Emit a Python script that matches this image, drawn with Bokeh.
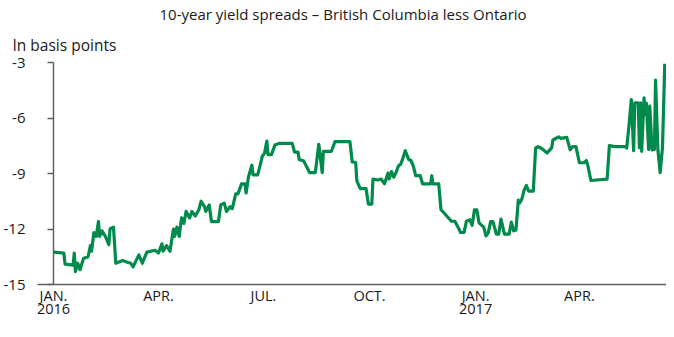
import pandas as pd
from bokeh.plotting import figure
from bokeh.models import Range1d, FixedTicker, Title, ColumnDataSource
from bokeh.embed import file_html
from bokeh.resources import INLINE

# ---- data ----
dates = [
    "2016-01-01", "2016-01-10", "2016-01-11", "2016-01-18", "2016-01-19", "2016-01-20",
    "2016-01-22", "2016-01-24", "2016-01-27", "2016-01-31", "2016-02-02", "2016-02-03",
    "2016-02-05", "2016-02-07", "2016-02-09", "2016-02-10", "2016-02-12", "2016-02-15",
    "2016-02-18", "2016-02-19", "2016-02-22", "2016-02-24", "2016-03-01", "2016-03-05",
    "2016-03-08", "2016-03-10", "2016-03-15", "2016-03-18", "2016-03-22", "2016-03-29",
    "2016-04-01", "2016-04-04", "2016-04-05", "2016-04-08", "2016-04-11", "2016-04-14",
    "2016-04-15", "2016-04-17", "2016-04-19", "2016-04-21", "2016-04-23", "2016-04-25",
    "2016-04-28", "2016-04-30", "2016-05-03", "2016-05-06", "2016-05-08", "2016-05-11",
    "2016-05-12", "2016-05-15", "2016-05-17", "2016-05-23", "2016-05-25", "2016-05-28",
    "2016-05-30", "2016-06-02", "2016-06-04", "2016-06-07", "2016-06-09", "2016-06-12",
    "2016-06-15", "2016-06-16", "2016-06-18", "2016-06-21", "2016-06-22", "2016-06-26",
    "2016-06-28", "2016-06-30", "2016-07-02", "2016-07-04", "2016-07-05", "2016-07-08",
    "2016-07-11", "2016-07-15", "2016-07-26", "2016-07-28", "2016-07-31", "2016-08-01",
    "2016-08-05", "2016-08-10", "2016-08-15", "2016-08-18", "2016-08-21", "2016-08-22",
    "2016-08-29", "2016-09-01", "2016-09-14", "2016-09-16", "2016-09-19", "2016-09-20",
    "2016-09-23", "2016-09-28", "2016-09-30", "2016-10-03", "2016-10-04", "2016-10-08",
    "2016-10-11", "2016-10-14", "2016-10-17", "2016-10-18", "2016-10-20", "2016-10-22",
    "2016-10-24", "2016-10-26", "2016-10-28", "2016-10-30", "2016-11-01", "2016-11-04",
    "2016-11-06", "2016-11-08", "2016-11-10", "2016-11-14", "2016-11-16", "2016-11-23",
    "2016-11-24", "2016-11-25", "2016-11-30", "2016-12-02", "2016-12-06", "2016-12-11",
    "2016-12-14", "2016-12-17", "2016-12-19", "2016-12-22", "2016-12-24", "2016-12-27",
    "2016-12-29", "2016-12-31", "2017-01-02", "2017-01-04", "2017-01-08", "2017-01-10",
    "2017-01-12", "2017-01-14", "2017-01-16", "2017-01-19", "2017-01-21", "2017-01-23",
    "2017-01-26", "2017-01-30", "2017-02-01", "2017-02-03", "2017-02-05", "2017-02-07",
    "2017-02-08", "2017-02-10", "2017-02-12", "2017-02-14", "2017-02-16", "2017-02-20",
    "2017-02-22", "2017-02-24", "2017-02-27", "2017-03-04", "2017-03-08", "2017-03-09",
    "2017-03-14", "2017-03-16", "2017-03-21", "2017-03-24", "2017-03-26", "2017-03-29",
    "2017-04-01", "2017-04-05", "2017-04-07", "2017-04-08", "2017-04-11", "2017-04-25",
    "2017-04-27", "2017-05-02", "2017-05-11", "2017-05-12", "2017-05-14", "2017-05-16",
    "2017-05-18", "2017-05-19", "2017-05-22", "2017-05-23", "2017-05-24", "2017-05-25",
    "2017-05-27", "2017-05-28", "2017-05-29", "2017-05-31", "2017-06-01", "2017-06-03",
    "2017-06-05", "2017-06-06", "2017-06-08", "2017-06-10", "2017-06-12", "2017-06-14",
]
spread_bp = [
    -13.25, -13.3, -13.9, -13.95, -13.3, -14.3,
    -13.85, -14.2, -13.6, -13.5, -12.9, -13.2,
    -12.2, -12.4, -11.6, -12.4, -12.1, -12.4,
    -12.85, -12.0, -11.9, -13.85, -13.7, -13.8,
    -13.85, -14.05, -13.4, -13.85, -13.25, -13.15,
    -13.3, -12.8, -13.2, -12.9, -13.2, -12.0,
    -12.4, -11.9, -12.4, -11.4, -11.7, -11.05,
    -11.4, -11.05, -11.3, -10.96, -10.5, -10.8,
    -11.05, -10.7, -11.6, -11.6, -10.7, -10.6,
    -11.05, -10.8, -10.9, -10.1, -10.1, -9.56,
    -9.56, -10.05, -9.2, -8.55, -9.07, -9.07,
    -8.6, -8.07, -7.9, -7.25, -7.98, -7.98,
    -7.46, -7.37, -7.37, -7.84, -7.84, -8.24,
    -8.33, -8.95, -8.95, -7.42, -8.95, -7.8,
    -7.8, -7.28, -7.28, -8.38, -8.4, -9.4,
    -9.82, -9.82, -10.65, -10.65, -9.3, -9.35,
    -9.3, -9.55, -8.98, -9.3, -8.9, -9.2,
    -8.95, -8.6, -8.5, -8.16, -7.77, -8.24,
    -8.3, -8.6, -9.12, -9.12, -9.56, -9.56,
    -9.12, -9.56, -9.56, -10.96, -11.23, -11.58,
    -11.58, -11.93, -12.19, -12.19, -11.58, -11.5,
    -11.8, -10.96, -10.96, -11.67, -11.9, -12.37,
    -12.2, -11.6, -11.6, -12.28, -12.28, -11.46,
    -12.28, -12.28, -11.63, -12.1, -12.05, -10.44,
    -10.6, -10.4, -9.91, -9.65, -9.95, -9.95,
    -7.63, -7.55, -7.63, -7.89, -7.6, -7.19,
    -7.02, -7.1, -7.05, -7.72, -7.55, -7.55,
    -8.42, -8.42, -8.3, -8.5, -9.38, -9.3,
    -7.49, -7.55, -7.55, -7.62, -6.4, -5.0,
    -7.77, -5.18, -5.18, -7.6, -5.18, -7.8,
    -4.91, -5.8, -5.2, -7.7, -5.35, -7.72,
    -7.7, -3.95, -7.7, -8.95, -7.6, -3.07,
]
tick_dates = ["2016-01-01", "2016-04-01", "2016-07-01", "2016-10-01", "2017-01-01", "2017-04-01"]
tick_labels = ["JAN.\n2016", "APR.", "JUL.", "OCT.", "JAN.\n2017", "APR."]
y_ticks = [-15, -12, -9, -6, -3]
y_tick_labels = ["-15", "-12", "-9", "-6", "-3"]
y_base = [-15]
title_text = "10-year yield spreads \u2013 British Columbia less Ontario"
unit_text = "In basis points"

FONT = "Open Sans"
GREEN = "#008a4b"
AXIS = "#5f5f5f"
TEXT = "#1a1a1a"

src = ColumnDataSource(dict(date=pd.to_datetime(dates), spread=spread_bp))

start = pd.Timestamp("2016-01-01")
end = start + pd.Timedelta(days=531.5)

p = figure(width=666, height=321, x_axis_type="datetime",
           x_range=Range1d(start, end), y_range=Range1d(-15, -3),
           output_backend="svg", toolbar_location=None, title=None,
           min_border_left=51, min_border_right=0, min_border_bottom=28,
           min_border_top=0)

p.add_layout(Title(text=unit_text, align="left", offset=-41,
                   text_font=FONT, text_font_size="15.5px", text_font_style="normal",
                   text_color=TEXT, standoff=14), "above")
p.add_layout(Title(text=title_text, align="left", offset=106,
                   text_font=FONT, text_font_size="15px", text_font_style="normal",
                   text_color=TEXT, standoff=2), "above")

p.line("date", "spread", source=src, line_color=GREEN, line_width=3.2,
       line_join="round")

p.outline_line_color = None
p.xgrid.grid_line_color = None
p.ygrid.grid_line_color = None
p.background_fill_color = "white"
p.border_fill_color = "white"

tick_ms = [pd.Timestamp(d).value / 1e6 for d in tick_dates]
xa = p.xaxis[0]
xa.ticker = FixedTicker(ticks=tick_ms)
xa.major_label_overrides = {t: l for t, l in zip(tick_ms, tick_labels)}
xa.major_tick_out = 0
xa.major_tick_in = 0
xa.minor_tick_out = 0
xa.minor_tick_in = 0
xa.axis_line_color = AXIS
xa.axis_line_width = 1.5
xa.major_label_text_font = FONT
xa.major_label_text_font_size = "14.5px"
xa.major_label_text_color = TEXT
xa.major_label_standoff = 1
xa.major_label_text_line_height = 0.72

ya = p.yaxis[0]
ya.ticker = FixedTicker(ticks=y_ticks, minor_ticks=y_base)
ya.major_label_overrides = {t: l for t, l in zip(y_ticks, y_tick_labels)}
ya.major_tick_out = 6
ya.major_tick_in = 0
ya.minor_tick_out = 16
ya.minor_tick_in = 0
ya.minor_tick_line_color = AXIS
ya.minor_tick_line_width = 1.5
ya.axis_line_color = AXIS
ya.major_tick_line_color = AXIS
ya.axis_line_width = 1.5
ya.major_tick_line_width = 1.5
ya.major_label_text_font = FONT
ya.major_label_text_font_size = "15px"
ya.major_label_text_color = TEXT
ya.major_label_standoff = 12

open("out.html", "w").write(file_html(p, INLINE))
